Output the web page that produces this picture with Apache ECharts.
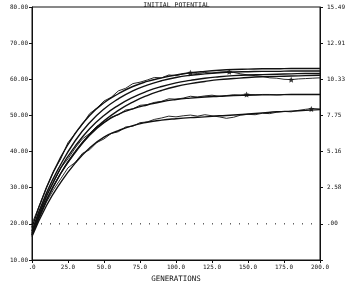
<!DOCTYPE html>
<html>
<head>
<meta charset="utf-8">
<script src="https://cdn.jsdelivr.net/npm/echarts@6/dist/echarts.min.js"></script>
<style>
  html, body { margin: 0; padding: 0; background: #fff; }
  #main { width: 353px; height: 282px; }
</style>
</head>
<body>
<div id="main"></div>
<script>
// generations for the smooth (predicted) curves
var gens = [0, 10, 20, 30, 40, 50, 60, 70, 80, 90, 100, 110, 120, 130, 140, 150, 160, 170, 180, 190, 200];
var upper1 = [19, 30, 38.5, 45, 50, 53.5, 56, 58, 59.4, 60.4, 61.2, 61.8, 62.2, 62.5, 62.7, 62.8, 62.9, 62.9, 63, 63, 63];
var upper2 = [18, 28.5, 36.5, 43, 48, 51.8, 54.6, 56.8, 58.4, 59.6, 60.5, 61.1, 61.5, 61.8, 62, 62.1, 62.2, 62.2, 62.3, 62.3, 62.3];
var upper3 = [17.5, 27.5, 35.5, 41.5, 46.3, 50, 52.8, 55, 56.7, 58, 59, 59.7, 60.3, 60.7, 61, 61.2, 61.3, 61.4, 61.5, 61.6, 61.6];
var upper4 = [17, 26.5, 34, 40, 44.8, 48.5, 51.4, 53.7, 55.5, 56.9, 58, 58.8, 59.4, 59.9, 60.2, 60.5, 60.7, 60.8, 60.9, 61, 61.1];
var middle = [17, 26.5, 34, 39.7, 44.5, 48, 50.3, 51.8, 52.9, 53.8, 54.4, 54.8, 55.1, 55.3, 55.5, 55.6, 55.7, 55.7, 55.8, 55.8, 55.8];
var lower = [16.5, 25, 31.5, 36.8, 41, 44, 45.8, 47.2, 48.1, 48.7, 49.1, 49.4, 49.6, 49.9, 50.1, 50.4, 50.7, 51, 51.2, 51.4, 51.6];

// simulated (noisy) runs, every 5 generations
var simGens = [0, 5, 10, 15, 20, 25, 30, 35, 40, 45, 50, 55, 60, 65, 70, 75, 80, 85, 90, 95, 100,
  105, 110, 115, 120, 125, 130, 135, 140, 145, 150, 155, 160, 165, 170, 175, 180, 185, 190, 195, 200];
var simUpper = [20, 25, 30, 34.5, 38, 42.5, 45, 47.5, 50.5, 52, 54, 55, 56.8, 57.5, 58.8, 59.2, 59.8, 60.5, 60.4, 61.2, 61,
  61.5, 61.8, 61.6, 61.9, 61.7, 62, 62.1, 61.9, 61.5, 61.2, 61, 60.8, 60.4, 60.3, 60, 59.9, 60.1, 60.2, 60.3, 60.4];
var simMiddle = [18, 23, 28, 31.5, 35.5, 38, 41, 43.5, 45, 47, 48, 49.5, 50.2, 51.5, 51.8, 52.8, 53, 53.6, 53.9, 54.6, 54.5,
  54.8, 55.3, 55.1, 55.4, 55.6, 55.3, 55.5, 55.7, 55.6, 55.8, 55.7, 55.8, 55.8, 55.7, 55.8, 55.8, 55.8, 55.8, 55.8, 55.8];
var simLower = [17, 21.5, 26, 29.5, 32.5, 35.5, 37, 39.5, 40.5, 42.5, 43.5, 45, 45.5, 46.8, 47, 48, 48.2, 48.9, 49.3, 49.8, 49.6,
  49.9, 50.1, 49.8, 50.2, 49.9, 49.6, 49.2, 49.5, 50.1, 50.3, 50.2, 50.6, 50.5, 50.9, 51.1, 51, 51.4, 51.7, 51.9, 51.8];

// star markers on the simulated runs
var stars = [[110, 61.8], [137, 62.1], [180, 59.9], [149, 55.8], [194, 51.8]];
var baseLine = [[0, 20], [200, 20]];

var rightLabels = ['.00', '2.58', '5.16', '7.75', '10.33', '12.91', '15.49'];
var rightStep = 2.582;

var font = 'DejaVu Sans Mono';
var ink = '#111';
var starPath = 'path://M0,-10L2.9,-4L9.5,-3.1L4.7,1.5L5.9,8.1L0,5L-5.9,8.1L-4.7,1.5L-9.5,-3.1L-2.9,-4Z';

function pairs(xs, ys) {
  return xs.map(function (x, i) { return [x, ys[i]]; });
}
function smoothLine(ys) {
  return { type: 'line', data: pairs(gens, ys), smooth: true, symbol: 'none', yAxisIndex: 0,
    lineStyle: { color: ink, width: 1.4 } };
}
function simLine(ys) {
  return { type: 'line', data: pairs(simGens, ys), symbol: 'none', yAxisIndex: 0,
    lineStyle: { color: ink, width: 0.9 } };
}

var myChart = echarts.init(document.getElementById('main'), null, { renderer: 'canvas' });
myChart.setOption({
  animation: false,
  title: {
    text: 'INITIAL POTENTIAL', left: 'center', top: -3,
    textStyle: { fontFamily: font, fontSize: 6.5, fontWeight: 'normal', color: ink }
  },
  grid: { left: 32, right: 33, top: 7, bottom: 22, containLabel: false, outerBoundsMode: 'none',
    show: true, borderColor: ink, borderWidth: 1, backgroundColor: 'transparent' },
  xAxis: {
    type: 'value', min: 0, max: 200, interval: 25,
    name: 'GENERATIONS', nameLocation: 'middle', nameGap: -5,
    nameTextStyle: { fontFamily: font, fontSize: 7.5, color: ink },
    axisLine: { onZero: false, lineStyle: { color: ink } },
    axisTick: { length: 3, lineStyle: { color: ink } },
    splitLine: { show: false },
    axisLabel: {
      fontFamily: font, fontSize: 6, color: ink, margin: 4,
      formatter: function (v) { return v === 0 ? '.0' : v.toFixed(1); }
    }
  },
  yAxis: [
    {
      type: 'value', min: 10, max: 80, interval: 10, position: 'left',
      name: 'TRAIT (NO. + GENES)', nameLocation: 'middle', nameGap: 24, nameRotate: 90,
      nameTextStyle: { fontFamily: font, fontSize: 7, color: ink },
      axisLine: { show: true, onZero: false, lineStyle: { color: ink } },
      axisTick: { show: true, length: 3, lineStyle: { color: ink } },
      splitLine: { show: false },
      axisLabel: { fontFamily: font, fontSize: 6, color: ink, margin: 4,
        formatter: function (v) { return v.toFixed(2); } }
    },
    {
      type: 'value', min: -rightStep, max: rightStep * 6, interval: rightStep, position: 'right',
      name: 'TRAIT (ADD GEN STD DEV)', nameLocation: 'middle', nameGap: 22, nameRotate: 90,
      nameTextStyle: { fontFamily: font, fontSize: 7, color: ink },
      axisLine: { show: true, onZero: false, lineStyle: { color: ink } },
      axisTick: { show: true, length: 3, lineStyle: { color: ink } },
      splitLine: { show: false },
      axisLabel: { fontFamily: font, fontSize: 6, color: ink, margin: 7,
        formatter: function (v) {
          var i = Math.round(v / rightStep);
          return i >= 0 ? rightLabels[i] : '';
        } }
    }
  ],
  series: [
    smoothLine(upper1), smoothLine(upper2), smoothLine(upper3), smoothLine(upper4),
    smoothLine(middle), smoothLine(lower),
    simLine(simUpper), simLine(simMiddle), simLine(simLower),
    { type: 'scatter', data: stars, symbol: starPath, symbolSize: 6, yAxisIndex: 0,
      itemStyle: { color: ink } },
    { type: 'line', data: baseLine, symbol: 'none', yAxisIndex: 0,
      lineStyle: { color: ink, width: 1, type: [1, 8] } }
  ]
});
</script>
</body>
</html>
